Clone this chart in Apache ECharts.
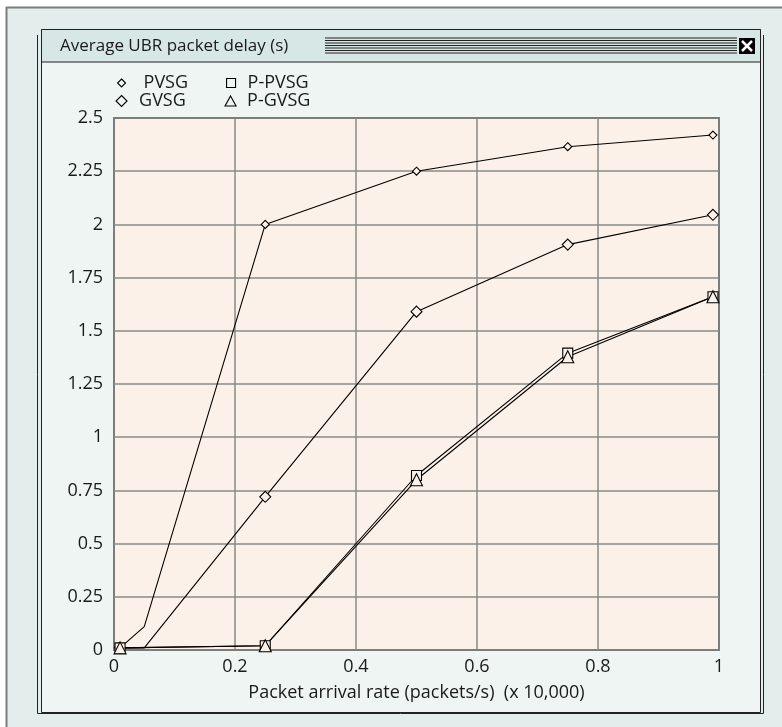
<!DOCTYPE html>
<html><head><meta charset="utf-8">
<script src="https://cdn.jsdelivr.net/npm/echarts@6/dist/echarts.min.js"></script>
<style>html,body{margin:0;padding:0;background:#fff}#c{width:782px;height:727px}</style>
</head><body><div id="c"></div>
<script>
const xRate = [0.01, 0.05, 0.25, 0.5, 0.75, 0.99];
const pvsg  = [0.01, 0.11, 2.00, 2.25, 2.365, 2.42];
const gvsg  = [0.01, 0.01, 0.72, 1.59, 1.905, 2.045];
const xRateP = [0.01, 0.25, 0.5, 0.75, 0.99];
const ppvsg = [0.01, 0.02, 0.82, 1.395, 1.66];
const pgvsg = [0.01, 0.02, 0.80, 1.378, 1.66];
const yTicks = ['0','0.25','0.5','0.75','1','1.25','1.5','1.75','2','2.25','2.5'];
const xTicks = ['0','0.2','0.4','0.6','0.8','1'];
const titleText = 'Average UBR packet delay (s)';
const xName = 'Packet arrival rate (packets/s)  (x 10,000)';

const FONT = 'Open Sans';
const PLOTBG = '#fcf1e8';
function pts(xs, ys){ return xs.map((x,i)=> x===0.05 ? {value:[x,ys[i]], symbol:'none'} : [x,ys[i]]); }
function mkSeries(name, xs, ys, symbol, size){
  return {name, type:'line', data:pts(xs,ys), symbol, symbolSize:size,
    lineStyle:{color:'#000', width:1.1}, itemStyle:{color:PLOTBG, borderColor:'#000', borderWidth:1.1},
    emphasis:{disabled:true}, animation:false, z:3};
}
function mkLegend(name, icon, left, top, w, h, padL){
  return {data:[{name, icon}], left, top, orient:'vertical', itemWidth:w, itemHeight:h,
    selectedMode:false, padding:[5,5,5,0],
    itemStyle:{color:'#eef5f2', borderColor:'#000', borderWidth:1.1},
    textStyle:{fontFamily:FONT, fontSize:18, color:'#1a1a1a', padding:[0,0,0,padL]}};
}
const stripes = [];
for (let i=0;i<7;i++){
  stripes.push({type:'line', shape:{x1:325,y1:38+i*2.5,x2:737,y2:38+i*2.5}, style:{stroke:'#222', lineWidth:1}});
}
const chart = echarts.init(document.getElementById('c'), null, {renderer:'canvas'});
chart.setOption({
  backgroundColor:'#fff',
  animation:false,
  graphic:[
    {type:'rect', shape:{x:6,y:7,width:776,height:720}, style:{fill:'#e3edeb'}, z:-10},
    {type:'line', shape:{x1:6,y1:7.5,x2:782,y2:7.5}, style:{stroke:'#7d7d7d', lineWidth:2}, z:-9},
    {type:'line', shape:{x1:6.5,y1:7,x2:6.5,y2:727}, style:{stroke:'#7d7d7d', lineWidth:2}, z:-9},
    {type:'rect', shape:{x:41.5,y:29.5,width:719,height:683}, style:{fill:'#eef5f2', stroke:'#222', lineWidth:1}, z:-8},
    {type:'polyline', shape:{points:[[37.5,35],[37.5,713.5],[763.5,713.5],[763.5,35]]}, style:{fill:null, stroke:'#222', lineWidth:1}, z:-8},
    {type:'rect', shape:{x:41.5,y:29.5,width:719,height:32.5}, style:{fill:'#d6e7e6', stroke:'#222', lineWidth:1}, z:-7},
    {type:'text', x:60, y:46, style:{text:titleText, fontFamily:FONT, fontSize:17, fill:'#1a1a1a', verticalAlign:'middle'}, z:-6},
    ...stripes.map(s=>Object.assign(s,{z:-6})),
    {type:'rect', shape:{x:739,y:38,width:16,height:16}, style:{fill:'#000'}, z:-6},
    {type:'line', shape:{x1:742,y1:41,x2:752,y2:51}, style:{stroke:'#fff', lineWidth:2.5}, z:-5},
    {type:'line', shape:{x1:752,y1:41,x2:742,y2:51}, style:{stroke:'#fff', lineWidth:2.5}, z:-5}
  ],
  legend:[
    mkLegend('PVSG','diamond',117,69,8,8,13),
    mkLegend('GVSG','diamond',115.5,87,11,11,7),
    mkLegend('P-PVSG','rect',226,69,9,9,7),
    mkLegend('P-GVSG','triangle',224.5,87,11,10,6)
  ],
  grid:{left:114, top:118, width:605, height:532, show:true, backgroundColor:PLOTBG, borderColor:'#222', borderWidth:1.5, containLabel:false},
  xAxis:{type:'value', min:0, max:1, interval:0.2,
    name:xName, nameLocation:'middle', nameGap:34,
    nameTextStyle:{fontFamily:FONT, fontSize:18, color:'#1a1a1a'},
    axisLine:{show:false}, axisTick:{show:false},
    axisLabel:{fontFamily:FONT, fontSize:18, color:'#1a1a1a', margin:8, formatter:(v)=>xTicks[Math.round(v/0.2)]},
    splitLine:{show:true, lineStyle:{color:'#8a8a8a', width:1.5}}},
  yAxis:{type:'value', min:0, max:2.5, interval:0.25,
    axisLine:{show:false}, axisTick:{show:false},
    axisLabel:{fontFamily:FONT, fontSize:18, color:'#1a1a1a', margin:11, formatter:(v)=>yTicks[Math.round(v/0.25)]},
    splitLine:{show:true, lineStyle:{color:'#8a8a8a', width:1.5}}},
  series:[
    mkSeries('PVSG', xRate, pvsg, 'diamond', 8),
    mkSeries('GVSG', xRate, gvsg, 'diamond', 11),
    mkSeries('P-PVSG', xRateP, ppvsg, 'rect', 10),
    mkSeries('P-GVSG', xRateP, pgvsg, 'triangle', 12)
  ]
});
</script></body></html>
